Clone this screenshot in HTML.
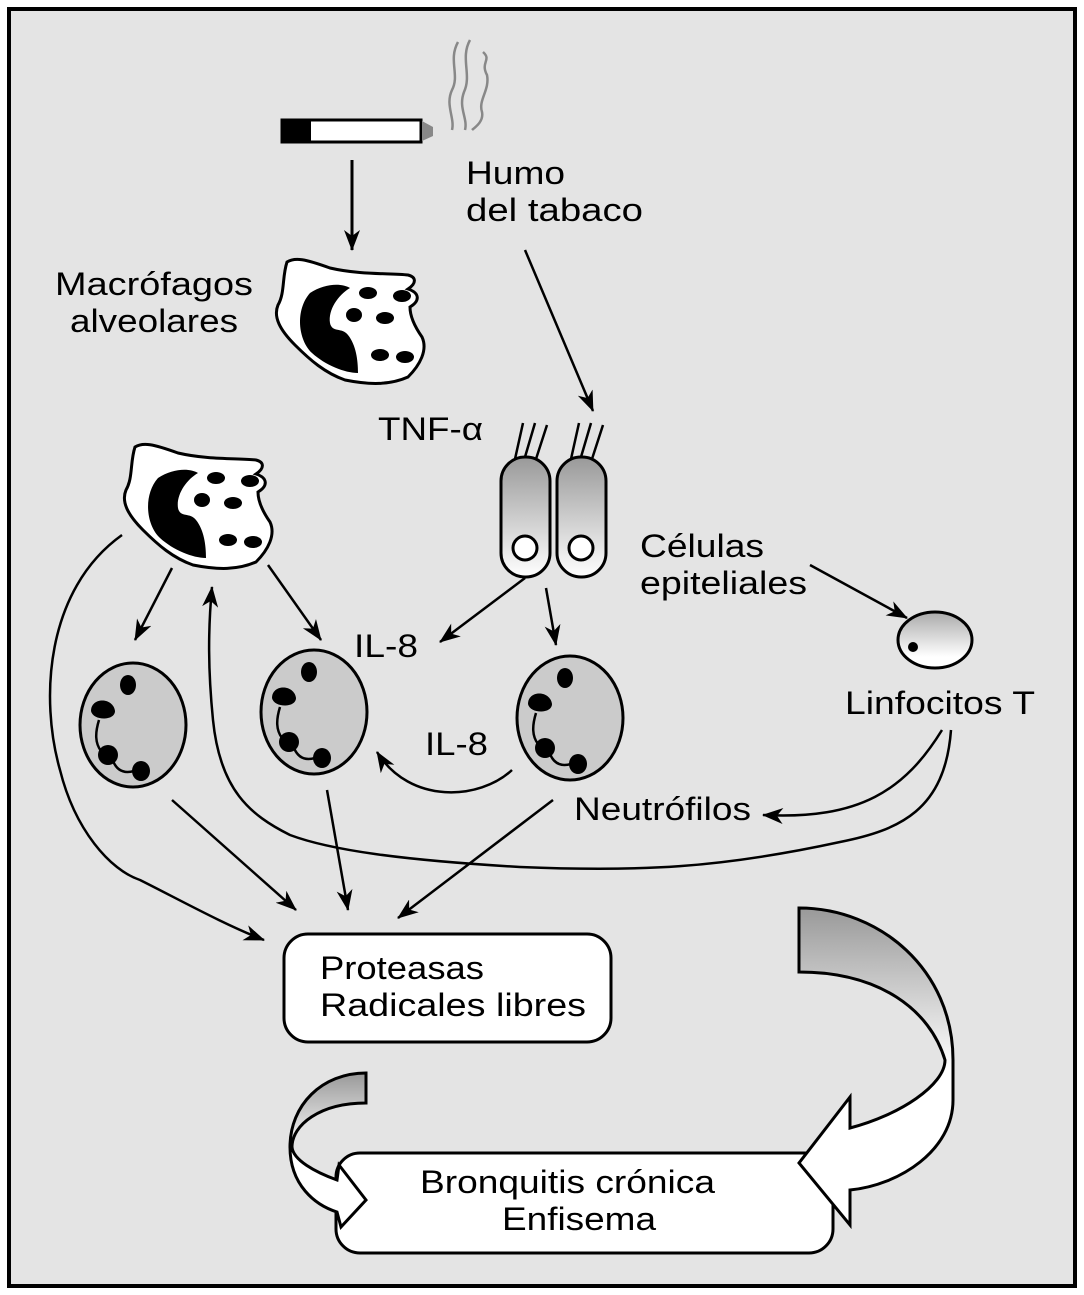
<!DOCTYPE html>
<html><head><meta charset="utf-8"><style>
html,body{margin:0;padding:0;background:#fff}
svg{display:block}
text{font-family:"Liberation Sans",sans-serif;font-size:32px;fill:#000}
</style></head><body>
<svg width="1084" height="1295" viewBox="0 0 1084 1295" xmlns="http://www.w3.org/2000/svg">
<defs>
<marker id="ah" markerWidth="22" markerHeight="16" refX="20" refY="8" orient="auto" markerUnits="userSpaceOnUse">
<path d="M0,0 L21,8 L0,16 L6,8 z" fill="#000"/>
</marker>
<linearGradient id="gv" x1="0" y1="0" x2="0" y2="1"><stop offset="0" stop-color="#999"/><stop offset="1" stop-color="#fff"/></linearGradient>
<linearGradient id="gl" x1="0" y1="0" x2="0" y2="1"><stop offset="0" stop-color="#aaa"/><stop offset="0.8" stop-color="#fff"/></linearGradient>
<linearGradient id="gr1" gradientUnits="userSpaceOnUse" x1="0" y1="1073" x2="0" y2="1150"><stop offset="0" stop-color="#999"/><stop offset="1" stop-color="#fff"/></linearGradient>
<linearGradient id="gr2" gradientUnits="userSpaceOnUse" x1="0" y1="908" x2="0" y2="1070"><stop offset="0" stop-color="#999"/><stop offset="1" stop-color="#fff"/></linearGradient>
<g id="mac">
<path d="M17,7 C25,2 35,4 60,13 C90,20 120,18 138,20 C146,22 147,28 138,34 C150,38 150,46 140,52 C140,62 145,72 152,82 C158,95 150,110 138,122 C120,130 100,130 75,125 C55,118 40,105 25,90 C10,75 3,62 8,50 C15,38 12,22 17,7 Z" fill="#fff" stroke="#000" stroke-width="3"/>
<path d="M40,38 C55,28 72,28 80,33 C68,40 58,55 60,68 C62,78 72,72 78,80 C86,90 88,105 88,118 C75,118 55,110 42,98 C28,85 25,55 40,38 Z" fill="#000"/>
<ellipse cx="98" cy="38" rx="9" ry="6"/><ellipse cx="132" cy="41" rx="9" ry="6"/><ellipse cx="84" cy="60" rx="8" ry="7"/><ellipse cx="115" cy="63" rx="9" ry="6"/><ellipse cx="110" cy="100" rx="9" ry="6"/><ellipse cx="135" cy="102" rx="9" ry="6"/>
</g>
<g id="neu">
<ellipse cx="0" cy="0" rx="53" ry="62" fill="#cbcbcb" stroke="#000" stroke-width="3"/>
<ellipse cx="-5" cy="-40" rx="8" ry="10"/>
<path d="M-42,-14 C-42,-28 -20,-28 -18,-14 C-18,-4 -40,-4 -42,-14 Z"/>
<ellipse cx="-25" cy="30" rx="10" ry="10"/><ellipse cx="8" cy="46" rx="9" ry="10"/>
<path d="M-34,-5 C-38,8 -38,18 -32,26 M-20,36 C-15,48 -6,48 1,46" fill="none" stroke="#000" stroke-width="2.5"/>
</g>
<g id="epi">
<rect x="0" y="0" width="49" height="120" rx="24" fill="url(#gv)" stroke="#000" stroke-width="3"/>
<circle cx="24" cy="91" r="12" fill="#fff" stroke="#000" stroke-width="3"/>
<path d="M14,2 L22,-34 M24,0 L34,-34 M35,2 L46,-32" stroke="#000" stroke-width="2.5"/>
</g>
</defs>
<rect x="9" y="9" width="1066" height="1277" fill="#e4e4e4" stroke="#000" stroke-width="4"/>
<rect x="282" y="120" width="139" height="22" fill="#fff" stroke="#000" stroke-width="3"/>
<rect x="282" y="120" width="29" height="22" fill="#000"/>
<polygon points="422,121 433,127 433,136 422,141" fill="#888"/>
<path d="M458,42 C448,60 460,75 452,90 C445,105 455,118 452,130 M470,40 C460,58 472,75 464,92 C458,108 468,118 465,130 M483,52 C492,60 480,62 487,75 C490,90 478,100 482,112 C484,122 474,128 472,130" fill="none" stroke="#888" stroke-width="2.5"/>
<line x1="352" y1="160" x2="352" y2="250" stroke="#000" stroke-width="3" marker-end="url(#ah)"/>
<g lengthAdjust="spacingAndGlyphs">
<text x="466" y="184" textLength="99" lengthAdjust="spacingAndGlyphs">Humo</text>
<text x="466" y="221" textLength="177" lengthAdjust="spacingAndGlyphs">del tabaco</text>
<text x="55" y="295" textLength="198" lengthAdjust="spacingAndGlyphs">Macrófagos</text>
<text x="70" y="332" textLength="168" lengthAdjust="spacingAndGlyphs">alveolares</text>
<text x="378" y="440" textLength="105" lengthAdjust="spacingAndGlyphs">TNF-α</text>
<text x="640" y="557" textLength="124" lengthAdjust="spacingAndGlyphs">Células</text>
<text x="640" y="594" textLength="167" lengthAdjust="spacingAndGlyphs">epiteliales</text>
<text x="845" y="714" textLength="190" lengthAdjust="spacingAndGlyphs">Linfocitos T</text>
<text x="354" y="657" textLength="64" lengthAdjust="spacingAndGlyphs">IL-8</text>
<text x="425" y="755" textLength="63" lengthAdjust="spacingAndGlyphs">IL-8</text>
<text x="574" y="820" textLength="177" lengthAdjust="spacingAndGlyphs">Neutrófilos</text>
</g>
<use href="#mac" x="270" y="255"/>
<use href="#mac" x="118" y="440"/>
<line x1="525" y1="250" x2="593" y2="411" stroke="#000" stroke-width="2.5" marker-end="url(#ah)"/>
<use href="#epi" x="501" y="457"/>
<use href="#epi" x="557" y="457"/>
<ellipse cx="935" cy="640" rx="37" ry="28" fill="url(#gl)" stroke="#000" stroke-width="3"/>
<circle cx="913" cy="647" r="5"/>
<use href="#neu" x="133" y="725"/>
<use href="#neu" x="314" y="712"/>
<use href="#neu" x="570" y="718"/>
<g fill="none" stroke="#000" stroke-width="2.5" marker-end="url(#ah)">
<line x1="172" y1="568" x2="135" y2="640"/>
<line x1="268" y1="565" x2="321" y2="640"/>
<line x1="525" y1="578" x2="440" y2="642"/>
<line x1="546" y1="588" x2="556" y2="645"/>
<path d="M512,770 C480,800 410,805 377,752"/>
<line x1="810" y1="565" x2="907" y2="618"/>
<path d="M942,730 C905,790 860,820 763,815"/>
<line x1="172" y1="800" x2="296" y2="910"/>
<line x1="327" y1="790" x2="348" y2="910"/>
<line x1="553" y1="800" x2="398" y2="918"/>
<path d="M951,730 C945,810 900,830 840,842 C720,868 640,872 520,867 C400,860 330,850 290,835 C250,815 220,790 213,720 C208,670 208,630 212,587"/>
<path d="M122,535 C45,590 40,700 60,770 C75,830 110,870 140,880 C180,900 225,925 264,940"/>
</g>
<rect x="284" y="934" width="327" height="108" rx="24" fill="#fff" stroke="#000" stroke-width="3"/>
<text x="320" y="979" textLength="164" lengthAdjust="spacingAndGlyphs">Proteasas</text>
<text x="320" y="1016" textLength="266" lengthAdjust="spacingAndGlyphs">Radicales libres</text>
<rect x="336" y="1153" width="497" height="100" rx="24" fill="#fff" stroke="#000" stroke-width="3"/>
<text x="420" y="1193" textLength="295" lengthAdjust="spacingAndGlyphs">Bronquitis crónica</text>
<text x="502" y="1230" textLength="154" lengthAdjust="spacingAndGlyphs">Enfisema</text>
<path d="M366,1073 C322,1073 290,1105 290,1147 C290,1185 315,1205 337,1212 L341,1227 L366,1200 L339,1165 L337,1180 C315,1172 293,1160 292,1147 C292,1125 320,1103 366,1103 Z" fill="url(#gr1)" stroke="#000" stroke-width="3"/>
<path d="M799,908 C880,908 953,970 953,1060 L953,1100 C953,1150 900,1185 850,1190 L850,1225 L799,1163 L850,1097 L850,1128 C900,1115 945,1085 945,1060 C930,1010 880,972 799,972 Z" fill="url(#gr2)" stroke="#000" stroke-width="3"/>
</svg>
</body></html>
